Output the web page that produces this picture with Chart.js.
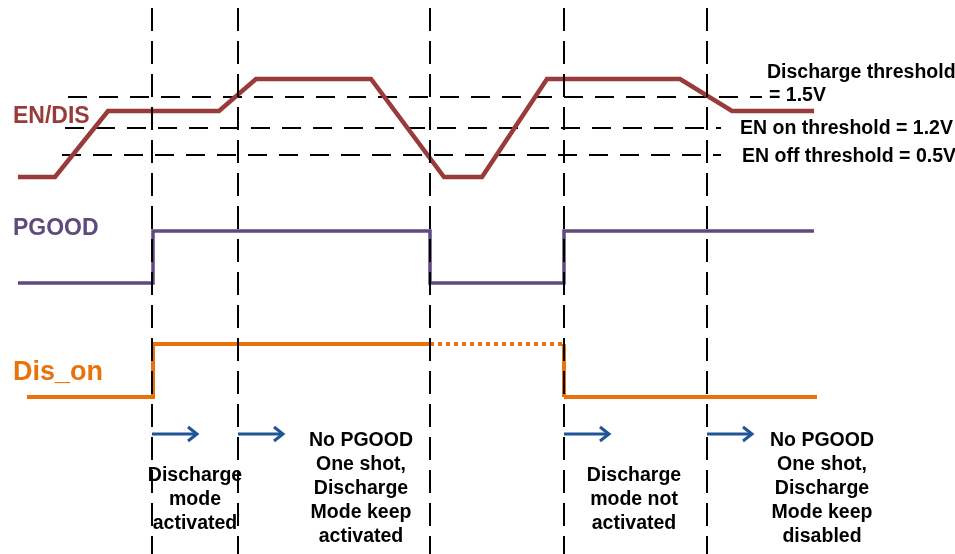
<!DOCTYPE html>
<html>
<head>
  <meta charset="UTF-8">
  <title>EN/DIS, PGOOD and Dis_on timing</title>
  <script src="https://cdn.jsdelivr.net/npm/chart.js@4.4.0/dist/chart.umd.min.js"></script>
  <style>
    html, body { margin: 0; padding: 0; background: #fff; }
    #wrap { width: 955px; height: 554px; position: relative; }
  </style>
</head>
<body>
<div id="wrap"><canvas id="timing"></canvas></div>
<script>
// time axis runs 0..955, level axis 0..554 (top to bottom)
const eventTimes = [152, 238, 430, 564, 707];
const eventTop = 8;
const eventBottom = 554;

// EN/DIS input
const enTime  = [18, 55, 108, 219, 256, 371, 444, 482, 547, 680, 732, 814];
const enLevel = [177, 177, 111, 111, 79, 79, 177, 177, 79, 79, 111, 111];

// PGOOD output
const pgTime  = [18, 153, 153, 430, 430, 564, 564, 814];
const pgLevel = [283, 283, 231, 231, 283, 283, 231, 231];

// Dis_on (dotted between the PGOOD fall and the next rise)
const disTime  = [27, 153, 153, 430, 564, 564, 817];
const disLevel = [397, 397, 344, 344, 344, 397, 397];

// thresholds
const thrNames = ["Discharge threshold", "EN on threshold = 1.2V", "EN off threshold = 0.5V"];
const thrLevel = [97, 128, 155];
const thrStart = [68, 65, 62];
const thrEnd   = [762, 721, 721];

// notes under the waveforms, one per arrow
const arrowFrom = [152, 238, 564, 707];
const arrowLen = 45;
const arrowLevel = 434;
const notes = [
  ["Discharge", "mode", "activated"],
  ["No PGOOD", "One shot,", "Discharge", "Mode keep", "activated"],
  ["Discharge", "mode not", "activated"],
  ["No PGOOD", "One shot,", "Discharge", "Mode keep", "disabled"]
];
const noteCenter = [195, 361, 634, 822];
const noteTop = [476, 441, 476, 441];

const zip = (xs, ys) => xs.map((x, i) => ({ x: x, y: ys[i] }));

const datasets = [];

// vertical event markers (on top)
eventTimes.forEach(t => {
  datasets.push({
    data: [{ x: t, y: eventTop }, { x: t, y: eventBottom }],
    borderColor: "#000",
    borderWidth: 2,
    borderDash: [23, 10],
    order: 0
  });
});

datasets.push({
  label: "EN/DIS",
  data: zip(enTime, enLevel),
  borderColor: "#9a3b3b",
  borderWidth: 4.5,
  order: 1
});

datasets.push({
  label: "PGOOD",
  data: zip(pgTime, pgLevel),
  borderColor: "#5f4a7d",
  borderWidth: 3.5,
  order: 1
});

datasets.push({
  label: "Dis_on",
  data: zip(disTime, disLevel),
  borderColor: "#e8720c",
  borderWidth: 4,
  order: 1,
  segment: {
    borderDash: ctx => (ctx.p0.parsed.x >= eventTimes[2] && ctx.p1.parsed.x <= eventTimes[3]) ? [4, 4] : undefined
  }
});

thrLevel.forEach((lv, i) => {
  datasets.push({
    data: [{ x: thrStart[i], y: lv }, { x: thrEnd[i], y: lv }],
    borderColor: "#000",
    borderWidth: 2,
    borderDash: [19, 12],
    order: 2
  });
});

const textPlugin = {
  id: "timingText",
  afterDraw(chart) {
    const c = chart.ctx;
    const xs = chart.scales.x, ys = chart.scales.y;
    const px = v => xs.getPixelForValue(v);
    const py = v => ys.getPixelForValue(v);
    c.save();

    // arrows
    c.strokeStyle = "#1f5597";
    c.lineWidth = 3;
    c.lineCap = "butt";
    c.lineJoin = "miter";
    arrowFrom.forEach(t => {
      const x0 = px(t), x1 = px(t + arrowLen), y = py(arrowLevel);
      c.beginPath();
      c.moveTo(x0, y);
      c.lineTo(x1 - 1, y);
      c.stroke();
      c.beginPath();
      c.moveTo(x1 - 9, y - 7);
      c.lineTo(x1, y);
      c.lineTo(x1 - 9, y + 7);
      c.stroke();
    });

    // signal names
    c.textBaseline = "middle";
    c.textAlign = "left";
    c.font = "bold 23px 'Liberation Sans', Arial, sans-serif";
    c.fillStyle = "#9a3b3b";
    c.fillText("EN/DIS", 13, 117);
    c.fillStyle = "#5f4a7d";
    c.fillText("PGOOD", 13, 229);
    c.font = "bold 27px 'Liberation Sans', Arial, sans-serif";
    c.fillStyle = "#e8720c";
    c.fillText("Dis_on", 13, 373);

    // threshold labels
    c.font = "bold 19.5px 'Liberation Sans', Arial, sans-serif";
    c.fillStyle = "#000";
    c.fillText(thrNames[0], 767, 73);
    c.fillText("= 1.5V", 769, 96);
    c.fillText(thrNames[1], 740, 129);
    c.fillText(thrNames[2], 742, 157);

    // notes
    c.textAlign = "center";
    notes.forEach((lines, i) => {
      lines.forEach((s, j) => {
        c.fillText(s, noteCenter[i], noteTop[i] + j * 24);
      });
    });
    c.restore();
  }
};

new Chart(document.getElementById("timing"), {
  type: "line",
  data: { datasets: datasets },
  options: {
    responsive: true,
    maintainAspectRatio: false,
    animation: false,
    layout: { padding: 0 },
    elements: {
      point: { radius: 0 },
      line: { tension: 0, fill: false, borderCapStyle: "butt", borderJoinStyle: "miter" }
    },
    plugins: { legend: { display: false }, tooltip: { enabled: false } },
    scales: {
      x: { type: "linear", min: 0, max: 955, display: false },
      y: { type: "linear", min: 0, max: 554, reverse: true, display: false }
    }
  },
  plugins: [textPlugin]
});
</script>
</body>
</html>
